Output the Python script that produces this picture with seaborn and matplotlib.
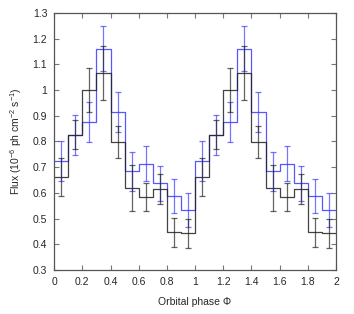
import numpy as np
import pandas as pd
import matplotlib
matplotlib.use("Agg")
import matplotlib.pyplot as plt
import seaborn as sns

# one orbital cycle, 10 phase bins (left edges), shown twice
phase_bins = [0.0, 0.1, 0.2, 0.3, 0.4, 0.5, 0.6, 0.7, 0.8, 0.9]
black_flux = [0.663, 0.826, 1.000, 1.067, 0.797, 0.618, 0.583, 0.616, 0.447, 0.443]
black_err = [0.074, 0.057, 0.085, 0.104, 0.062, 0.089, 0.054, 0.059, 0.057, 0.057]
blue_flux = [0.723, 0.826, 0.875, 1.161, 0.914, 0.684, 0.714, 0.637, 0.589, 0.532]
blue_err = [0.077, 0.077, 0.077, 0.087, 0.078, 0.076, 0.068, 0.067, 0.066, 0.066]
bin_width = 0.1
n_cycles = 2

x_ticks = [0, 0.2, 0.4, 0.6, 0.8, 1, 1.2, 1.4, 1.6, 1.8, 2]
y_ticks = [0.3, 0.4, 0.5, 0.6, 0.7, 0.8, 0.9, 1, 1.1, 1.2, 1.3]

# fold the phase bins over two cycles
edges = np.concatenate([np.array(phase_bins) + c for c in range(n_cycles)])
df = pd.DataFrame({
    "edge": edges,
    "center": edges + bin_width / 2,
    "black": np.tile(black_flux, n_cycles),
    "black_err": np.tile(black_err, n_cycles),
    "blue": np.tile(blue_flux, n_cycles),
    "blue_err": np.tile(blue_err, n_cycles),
})
# closing point so the last step reaches phase 2
last = df.iloc[[-1]].copy()
last["edge"] = n_cycles
steps = pd.concat([df, last], ignore_index=True)

sns.set_style("ticks")
plt.rcParams["font.family"] = ["Liberation Sans", "DejaVu Sans"]
plt.rcParams["mathtext.fontset"] = "custom"
plt.rcParams["mathtext.rm"] = "Liberation Sans"
plt.rcParams["mathtext.it"] = "Liberation Sans"

fig = plt.figure(figsize=(3.54, 3.14), dpi=100)
ax = fig.add_axes([0.153, 0.140, 0.796, 0.819])

blue_col = "#3a3aff"
black_col = "#222222"

sns.lineplot(data=steps, x="edge", y="blue", drawstyle="steps-post",
             color=blue_col, lw=0.9, alpha=0.85, ax=ax, estimator=None)
sns.lineplot(data=steps, x="edge", y="black", drawstyle="steps-post",
             color=black_col, lw=0.9, alpha=0.85, ax=ax, estimator=None)
ax.errorbar(df["center"], df["blue"], yerr=df["blue_err"], fmt="none",
            ecolor=blue_col, elinewidth=0.9, capsize=2.2, capthick=0.9, alpha=0.7)
ax.errorbar(df["center"], df["black"], yerr=df["black_err"], fmt="none",
            ecolor=black_col, elinewidth=0.9, capsize=2.2, capthick=0.9, alpha=0.7)

ax.set_xlim(0, 2)
ax.set_ylim(0.3, 1.3)
ax.set_xticks(x_ticks)
ax.set_yticks(y_ticks)
ax.set_xticklabels([f"{t:g}" for t in x_ticks])
ax.set_yticklabels([f"{t:g}" for t in y_ticks])
ax.tick_params(direction="in", length=3.5, width=0.8, color="#777777",
               labelsize=7.5, top=True, right=True, pad=5)
for s in ax.spines.values():
    s.set_color("#555555")
    s.set_linewidth(0.9)

ax.set_xlabel("Orbital phase Φ", fontsize=7.5, labelpad=7)
ax.set_ylabel("Flux (10$^{-6}$ ph cm$^{-2}$ s$^{-1}$)", fontsize=7.5, labelpad=6)

fig.savefig("out.png", dpi=100)
